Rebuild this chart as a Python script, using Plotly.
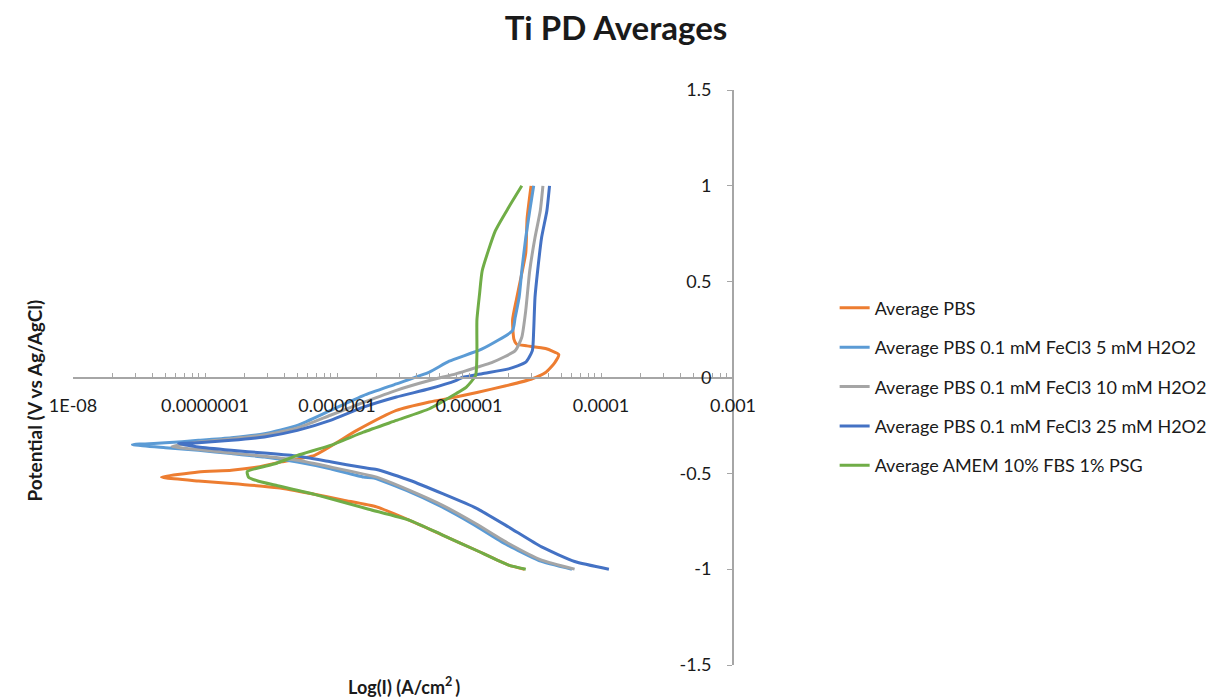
import plotly.graph_objects as go

# ---- data; potential in V, current as log10(A/cm2) ----
series_names = [
    "Average PBS",
    "Average PBS 0.1 mM FeCl3 5 mM H2O2",
    "Average PBS 0.1 mM FeCl3 10 mM H2O2",
    "Average PBS 0.1 mM FeCl3 25 mM H2O2",
    "Average AMEM 10% FBS 1% PSG",
]
series_colors = ["#ED7D31", "#5B9BD5", "#A5A5A5", "#4472C4", "#70AD47"]

pbs_log_i = [-4.58, -4.70, -4.95, -5.20, -5.45, -5.70, -5.95, -6.20, -6.45, -6.80, -7.05, -7.33,
             -7.05, -6.80, -6.60, -6.42, -6.17, -5.85, -5.55, -5.30, -5.10, -4.94, -4.72, -4.53, -4.42,
             -4.35, -4.32, -4.42, -4.56, -4.64, -4.66, -4.67, -4.64, -4.61, -4.57, -4.56, -4.53]
pbs_e = [-1.00, -0.979, -0.90, -0.822, -0.745, -0.675, -0.64, -0.605, -0.575, -0.553, -0.54, -0.52,
         -0.493, -0.484, -0.467, -0.44, -0.406, -0.276, -0.172, -0.128, -0.102, -0.078, -0.043, -0.009, 0.026,
         0.078, 0.12, 0.151, 0.165, 0.174, 0.20, 0.30, 0.41, 0.51, 0.65, 0.83, 1.00]

fe5_log_i = [-4.22, -4.47, -4.72, -4.97, -5.22, -5.47, -5.72, -5.80, -6.05, -6.30, -6.55, -6.80, -7.05, -7.30, -7.55,
             -7.30, -7.05, -6.80, -6.55, -6.30, -6.05, -5.80, -5.55, -5.30, -5.15, -4.90, -4.67, -4.65, -4.62,
             -4.60, -4.57, -4.54, -4.51]
fe5_e = [-1.00, -0.955, -0.87, -0.765, -0.67, -0.59, -0.525, -0.519, -0.476, -0.441, -0.415, -0.397, -0.38, -0.366, -0.35,
         -0.341, -0.328, -0.314, -0.293, -0.25, -0.172, -0.094, -0.033, 0.028, 0.085, 0.149, 0.245, 0.314, 0.42,
         0.557, 0.73, 0.87, 1.00]

fe10_log_i = [-4.20, -4.45, -4.70, -4.95, -5.20, -5.45, -5.70, -6.05, -6.30, -6.55, -6.80, -7.05, -7.25,
              -7.05, -6.80, -6.55, -6.30, -6.05, -5.80, -5.55, -5.30, -5.10, -5.02, -4.82, -4.65, -4.60,
              -4.57, -4.54, -4.50, -4.46, -4.44]
fe10_e = [-1.00, -0.953, -0.866, -0.762, -0.667, -0.589, -0.52, -0.467, -0.432, -0.411, -0.394, -0.376, -0.36,
          -0.337, -0.32, -0.30, -0.263, -0.197, -0.13, -0.067, -0.016, 0.019, 0.036, 0.08, 0.14, 0.21,
          0.35, 0.557, 0.73, 0.87, 1.00]

fe25_log_i = [-3.94, -4.20, -4.45, -4.70, -4.95, -5.20, -5.45, -5.70, -5.80, -6.05, -6.30, -6.55, -6.80, -7.05, -7.20,
              -7.05, -6.80, -6.55, -6.30, -6.05, -5.80, -5.55, -5.30, -5.10, -5.05, -4.90, -4.70, -4.57, -4.52,
              -4.51, -4.50, -4.48, -4.45, -4.41, -4.39]
fe25_e = [-1.00, -0.96, -0.884, -0.78, -0.68, -0.606, -0.536, -0.48, -0.47, -0.44, -0.41, -0.394, -0.38, -0.363, -0.345,
          -0.34, -0.328, -0.31, -0.276, -0.224, -0.155, -0.102, -0.059, -0.016, 0.0, 0.02, 0.045, 0.08, 0.14,
          0.245, 0.418, 0.557, 0.73, 0.87, 1.00]

amem_log_i = [-4.57, -4.70, -4.95, -5.20, -5.45, -5.76, -6.17, -6.45, -6.60, -6.67, -6.68,
              -6.47, -6.30, -6.05, -5.80, -5.55, -5.30, -5.10, -5.02, -4.95, -4.94, -4.94, -4.92,
              -4.90, -4.80, -4.70, -4.60]
amem_e = [-1.00, -0.979, -0.90, -0.822, -0.745, -0.687, -0.61, -0.565, -0.54, -0.52, -0.49,
          -0.45, -0.406, -0.354, -0.285, -0.224, -0.163, -0.085, -0.05, 0.01, 0.12, 0.30, 0.436,
          0.557, 0.766, 0.887, 1.00]

x_tick_vals = [1e-8, 1e-7, 1e-6, 1e-5, 1e-4, 1e-3]
x_tick_text = ["1E-08", "0.0000001", "0.000001", "0.00001", "0.0001", "0.001"]
y_tick_vals = [-1.5, -1.0, -0.5, 0.0, 0.5, 1.0, 1.5]
y_tick_text = ["-1.5", "-1", "-0.5", "0", "0.5", "1", "1.5"]

log_currents = [pbs_log_i, fe5_log_i, fe10_log_i, fe25_log_i, amem_log_i]
potentials = [pbs_e, fe5_e, fe10_e, fe25_e, amem_e]

FONT = "Lato"
TXT = "#1a1a1a"
AX = "#A6A6A6"

fig = go.Figure()
for i, (name, color, li, e) in enumerate(zip(series_names, series_colors, log_currents, potentials)):
    fig.add_trace(go.Scatter(
        x=[10 ** v for v in li], y=e, mode="lines", name=name,
        line=dict(color=color, width=3, shape="spline", smoothing=0.5),
        legendgroup=f"g{i}",
    ))

# page body has an 8px margin, so the figure is drawn 8px smaller and shifted
fig.update_layout(
    width=1216, height=690,
    margin=dict(l=65, r=479, t=82, b=33),
    paper_bgcolor="white", plot_bgcolor="white",
    font=dict(family=FONT, color=TXT, size=18),
    title=dict(text="<b>Ti PD Averages</b>", x=0.5, xref="container", xanchor="center",
               y=1 - 20 / 690, yref="container", yanchor="middle",
               font=dict(family=FONT, size=33, color=TXT)),
    showlegend=True,
    legend=dict(x=1.154, y=0.653, xanchor="left", yanchor="top",
                font=dict(family=FONT, size=18, color=TXT),
                tracegroupgap=13, bgcolor="rgba(0,0,0,0)"),
    xaxis=dict(
        type="log", range=[-8, -3], anchor="free", position=0.5,
        showline=True, linecolor=AX, linewidth=2, showgrid=False, zeroline=False,
        ticks="inside", ticklen=4, tickcolor=AX, tickwidth=1,
        tickvals=x_tick_vals, ticktext=x_tick_text, ticklabelstandoff=12,
        tickfont=dict(family=FONT, size=18, color=TXT),
        minor=dict(ticks="inside", ticklen=4, tickcolor=AX, dtick="D1", showgrid=False),
    ),
    yaxis=dict(
        range=[-1.5, 1.5], anchor="free", position=1.0, side="left",
        showline=True, linecolor=AX, linewidth=2, showgrid=False, zeroline=False,
        ticks="outside", ticklen=5, tickcolor=AX,
        tickvals=y_tick_vals, ticktext=y_tick_text, ticklabelstandoff=12,
        tickfont=dict(family=FONT, size=18, color=TXT),
    ),
    annotations=[
        dict(text="<b>Potential (V vs Ag/AgCl)</b>", textangle=-90, xref="paper", yref="paper",
             x=(20 - 73) / 672, y=(665 - 400) / 575, showarrow=False,
             font=dict(family=FONT, size=19, color=TXT)),
        dict(text="<b>Log(I) (A/cm<sup>2 </sup>)</b>", xref="paper", yref="paper",
             x=(410 - 73) / 672, y=(665 - 686) / 575, showarrow=False, yanchor="middle",
             font=dict(family=FONT, size=18, color=TXT)),
    ],
)

fig.write_html("out.html")
